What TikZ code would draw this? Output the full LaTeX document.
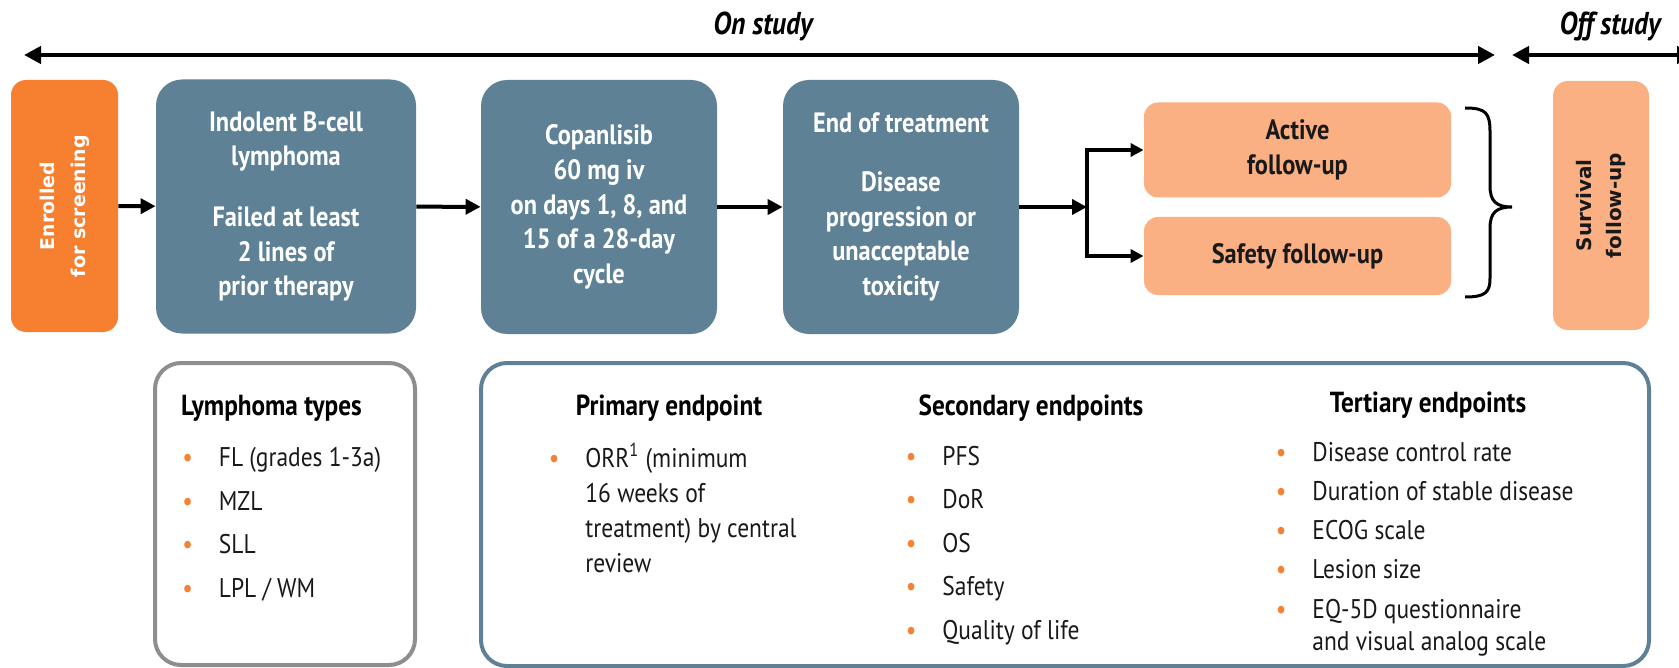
\documentclass[tikz,border=0pt]{standalone}
\usepackage{fontspec}
\setmainfont{PT Sans}[FakeStretch=0.87]
\newfontfamily\widefont{DejaVu Sans}
\usetikzlibrary{positioning, arrows.meta}

\definecolor{slate}{RGB}{94,129,150}
\definecolor{deeporange}{RGB}{246,128,48}
\definecolor{lightorange}{RGB}{251,176,131}
\definecolor{framegray}{RGB}{142,142,142}
\definecolor{dotorange}{RGB}{245,130,50}
\definecolor{ink}{RGB}{25,25,25}

\newcommand{\blt}{\llap{\textcolor{dotorange}{\textbullet}\hspace{13pt}}}

\tikzset{
    timeline/.style = {line width = 2.4pt, {Triangle[length = 8.5pt, width = 8.5pt]}-{Triangle[length = 8.5pt, width = 8.5pt]}},
    flow/.style = {line width = 2pt, -{Triangle[length = 7.5pt, width = 7.5pt]}},
    branch/.style = {line width = 1.75pt, {Triangle[length = 6.5pt, width = 6.5pt]}-{Triangle[length = 6.5pt, width = 6.5pt]}},
    phase/.style = {anchor = base, text = black, font = \bfseries\itshape\fontsize{15.8}{15.8}\selectfont},
    stagebox/.style = {shape = rectangle, rounded corners = 13pt, fill = slate, text = white, align = center,
        minimum height = 127pt, inner sep = 0pt, font = \bfseries\fontsize{14}{17.3}\selectfont},
    sidebox/.style = {shape = rectangle, rounded corners = 7.5pt, rotate = 90, align = center, inner sep = 0pt,
        font = \widefont\bfseries\fontsize{9.5}{15.5}\selectfont},
    followbox/.style = {shape = rectangle, rounded corners = 7pt, fill = lightorange, text = ink, align = center,
        minimum width = 153.5pt, inner sep = 0pt, font = \bfseries\fontsize{14}{17.5}\selectfont},
    frame/.style = {shape = rectangle, rounded corners = 13pt, line width = 2pt, fill = white, inner sep = 0pt},
    heading/.style = {anchor = base, text = black, font = \bfseries\fontsize{14.5}{14.5}\selectfont},
    listing/.style = {anchor = base west, align = left, text = ink, inner sep = 0pt}
}

\begin{document}
\begin{tikzpicture}[x = 0.5pt, y = -0.5pt]
    \useasboundingbox [fill = white] (0, 0) rectangle (1679, 668);

    % study phases
    \coordinate (onstart) at (24, 55);
    \coordinate (onend) at (1495, 55);
    \coordinate (offstart) at (1512, 55);
    \coordinate (offend) at (1694, 55);
    \draw [timeline] (onstart) -- (onend);
    \draw [timeline] (offstart) -- (offend);
    \node [phase] (on) at (763, 35) {On study};
    \node [phase] (off) at (1610, 35) {Off study};

    % flow of the study
    \node [sidebox, fill = deeporange, text = white, minimum width = 126pt, minimum height = 53.5pt] (enrol) at (64.5, 206) {Enrolled\\for screening};
    \node [stagebox, minimum width = 130pt] (lymph) at (286, 206.5) {Indolent B-cell\\lymphoma\\[13pt]Failed at least\\2 lines of\\prior therapy};
    \node [stagebox, minimum width = 118pt] (drug) at (599, 207) {Copanlisib\\60 mg iv\\on days 1, 8, and\\15 of a 28-day\\cycle};
    \node [stagebox, minimum width = 118pt] (eot) at (901, 207) {End of treatment\\[12pt]Disease\\progression or\\unacceptable\\toxicity};
    \node [followbox, minimum height = 47.5pt] (active) at (1297.5, 150) {Active\\follow-up};
    \node [followbox, minimum height = 39pt] (safety) at (1297.5, 256) {Safety follow-up};
    \node [sidebox, fill = lightorange, text = ink, minimum width = 124.5pt, minimum height = 48pt,
        font = \widefont\bfseries\fontsize{10}{15}\selectfont] (surv) at (1601, 205.5) {Survival\\follow-up};

    \coordinate (split) at (1087, 207);
    \draw [flow] (enrol) -- (lymph);
    \draw [flow] (lymph) -- (drug);
    \draw [flow] (drug) -- (eot);
    \draw [flow] (eot) -- (split);
    \draw [branch] (active.west) -| (split) |- (safety.west);

    % brace
    \draw [line width = 1.5pt] (1465, 108) .. controls (1486, 108) and (1490, 113) .. (1490, 132) -- (1490, 186)
        .. controls (1490, 201) and (1496, 207) .. (1512, 207) .. controls (1496, 207) and (1490, 213) .. (1490, 228)
        -- (1490, 278) .. controls (1490, 292) and (1486, 297) .. (1465, 297);

    % lymphoma types
    \node [frame, draw = framegray, minimum width = 130pt, minimum height = 151pt] (types) at (285, 514) {};
    \node [heading, anchor = base west] (typeshead) at (174, 415) {Lymphoma types};
    \node [listing, font = \fontsize{13.5}{21.7}\selectfont] (typeslist) at (218.5, 597) {\blt FL (grades 1-3a)\\\blt MZL\\\blt SLL\\\blt LPL / WM};

    % endpoints
    \node [frame, draw = slate, minimum width = 584pt, minimum height = 151.5pt] (endpts) at (1065, 514.5) {};
    \node [heading] (primhead) at (669, 415) {Primary endpoint};
    \node [listing, font = \fontsize{13.5}{17.5}\selectfont] (primlist) at (585, 572) {\blt ORR\textsuperscript{1} (minimum\\16 weeks of\\treatment) by central\\review};
    \node [heading] (sechead) at (1031, 415) {Secondary endpoints};
    \node [listing, font = \fontsize{13.5}{21.7}\selectfont] (seclist) at (942, 639) {\blt PFS\\\blt DoR\\\blt OS\\\blt Safety\\\blt Quality of life};
    \node [heading] (terhead) at (1428, 412) {Tertiary endpoints};
    \node [listing, font = \fontsize{13.5}{16}\selectfont] (terlist) at (1312, 650) {\blt Disease control rate\\[3.6pt]\blt Duration of stable disease\\[3.6pt]\blt ECOG scale\\[3.6pt]\blt Lesion size\\[3.6pt]\blt EQ-5D questionnaire\\and visual analog scale};
\end{tikzpicture}
\end{document}
